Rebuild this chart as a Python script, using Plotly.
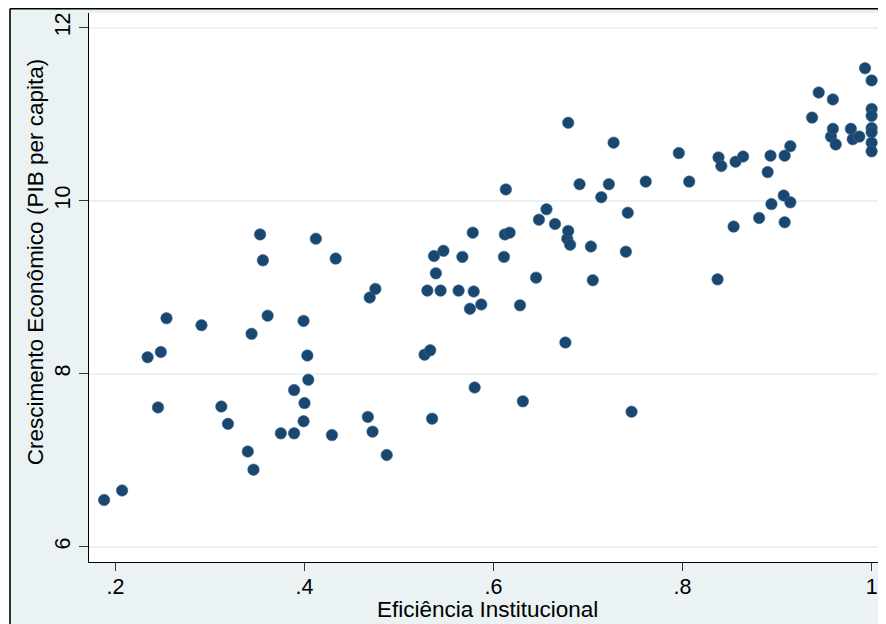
import plotly.graph_objects as go

# Eficiência Institucional (x) and Crescimento Econômico (y)
eficiencia = [
    0.188, 0.207, 0.234, 0.245, 0.248, 0.254, 0.291, 0.312, 0.319, 0.340,
    0.344, 0.346, 0.353, 0.356, 0.361, 0.375, 0.389, 0.389, 0.399, 0.400,
    0.399, 0.403, 0.404, 0.412, 0.429, 0.433, 0.467, 0.469, 0.472, 0.475,
    0.487, 0.527, 0.533, 0.530, 0.535, 0.537, 0.539, 0.544, 0.547, 0.563,
    0.567, 0.575, 0.578, 0.579, 0.580, 0.587, 0.611, 0.612, 0.613, 0.617,
    0.628, 0.631, 0.645, 0.648, 0.656, 0.665, 0.676, 0.678, 0.679, 0.679,
    0.681, 0.691, 0.703, 0.705, 0.714, 0.722, 0.727, 0.740, 0.742, 0.746,
    0.761, 0.796, 0.807, 0.837, 0.838, 0.841, 0.854, 0.856, 0.864, 0.881,
    0.890, 0.893, 0.894, 0.907, 0.908, 0.908, 0.914, 0.914, 0.937, 0.944,
    0.957, 0.959, 0.959, 0.962, 0.978, 0.980, 0.987, 0.993, 1.000, 1.000,
    1.000, 1.000, 1.000, 1.000, 1.000,
]
crescimento = [
    6.54, 6.65, 8.19, 7.61, 8.25, 8.64, 8.56, 7.62, 7.42, 7.10,
    8.46, 6.89, 9.61, 9.31, 8.67, 7.31, 7.81, 7.31, 8.61, 7.66,
    7.45, 8.21, 7.93, 9.56, 7.29, 9.33, 7.50, 8.88, 7.33, 8.98,
    7.06, 8.22, 8.27, 8.96, 7.48, 9.36, 9.16, 8.96, 9.42, 8.96,
    9.35, 8.75, 9.63, 8.95, 7.84, 8.80, 9.35, 9.61, 10.13, 9.63,
    8.79, 7.68, 9.11, 9.78, 9.90, 9.73, 8.36, 9.56, 9.65, 10.90,
    9.49, 10.19, 9.47, 9.08, 10.04, 10.19, 10.67, 9.41, 9.86, 7.56,
    10.22, 10.55, 10.22, 9.09, 10.50, 10.40, 9.70, 10.45, 10.51, 9.80,
    10.33, 10.52, 9.96, 10.06, 10.52, 9.75, 9.98, 10.63, 10.96, 11.25,
    10.74, 11.17, 10.83, 10.65, 10.83, 10.71, 10.74, 11.53, 11.39, 11.06,
    10.98, 10.84, 10.79, 10.67, 10.57,
]

x_tickvals = [0.2, 0.4, 0.6, 0.8, 1.0]
x_ticktext = [".2", ".4", ".6", ".8", "1"]
y_tickvals = [6, 8, 10, 12]
y_ticktext = ["6", "8", "10", "12"]

x_title = "Eficiência Institucional"
y_title = "Crescimento Econômico (PIB per capita)"

FONT = "Liberation Sans, Arial, sans-serif"
BG = "#EAF2F3"
FS = 22.5
TFS = 21.5

fig = go.Figure()
fig.add_trace(go.Scatter(
    x=eficiencia, y=crescimento, mode="markers",
    marker=dict(color="#1A476F", size=11.5, line=dict(width=0.6, color="#3d6a90")),
    showlegend=False, hoverinfo="x+y",
))

fig.update_layout(
    width=878, height=616,
    margin=dict(l=81, r=0, t=5, b=62, autoexpand=False),
    paper_bgcolor=BG, plot_bgcolor="white",
    font=dict(family=FONT, size=FS, color="black"),
    showlegend=False,
    xaxis=dict(
        range=[0.172, 1.0152], tickvals=x_tickvals, ticktext=x_ticktext,
        showgrid=False, zeroline=False, showline=True, linecolor="black", linewidth=1,
        ticks="outside", ticklen=8, tickwidth=1, tickcolor="#333333",
        tickfont=dict(size=TFS), automargin=False, ticklabelstandoff=-3,
    ),
    yaxis=dict(
        range=[5.823, 12.169], tickvals=y_tickvals, ticktext=y_ticktext,
        showgrid=True, gridcolor=BG, gridwidth=1.5, zeroline=False,
        showline=True, linecolor="black", linewidth=1,
        ticks="outside", ticklen=9, tickwidth=1, tickcolor="#333333",
        tickangle=-90, tickfont=dict(size=TFS), automargin=False,
    ),
    annotations=[
        dict(text=x_title, xref="paper", yref="paper", x=0.5, y=-0.0874,
             xanchor="center", yanchor="middle", showarrow=False,
             font=dict(family=FONT, size=FS, color="black")),
        dict(text=y_title, xref="paper", yref="paper", x=-0.0678, y=0.546,
             xanchor="center", yanchor="middle", showarrow=False, textangle=-90,
             font=dict(family=FONT, size=FS, color="black")),
    ],
    shapes=[
        # white area outside the outer frame (left and top)
        dict(type="rect", xref="paper", yref="paper", x0=-0.2, x1=-0.0991,
             y0=-0.2, y1=1.05, fillcolor="white", line=dict(width=0), layer="below"),
        dict(type="rect", xref="paper", yref="paper", x0=-0.2, x1=1.1,
             y0=1.0077, y1=1.05, fillcolor="white", line=dict(width=0), layer="below"),
        # outer frame lines
        dict(type="line", xref="paper", yref="paper", x0=-0.0991, x1=-0.0991,
             y0=-0.2, y1=1.0077, line=dict(color="black", width=1.6)),
        dict(type="line", xref="paper", yref="paper", x0=-0.0991, x1=1.1,
             y0=1.0077, y1=1.0077, line=dict(color="black", width=1.6)),
    ],
)

fig.write_html("out.html")
